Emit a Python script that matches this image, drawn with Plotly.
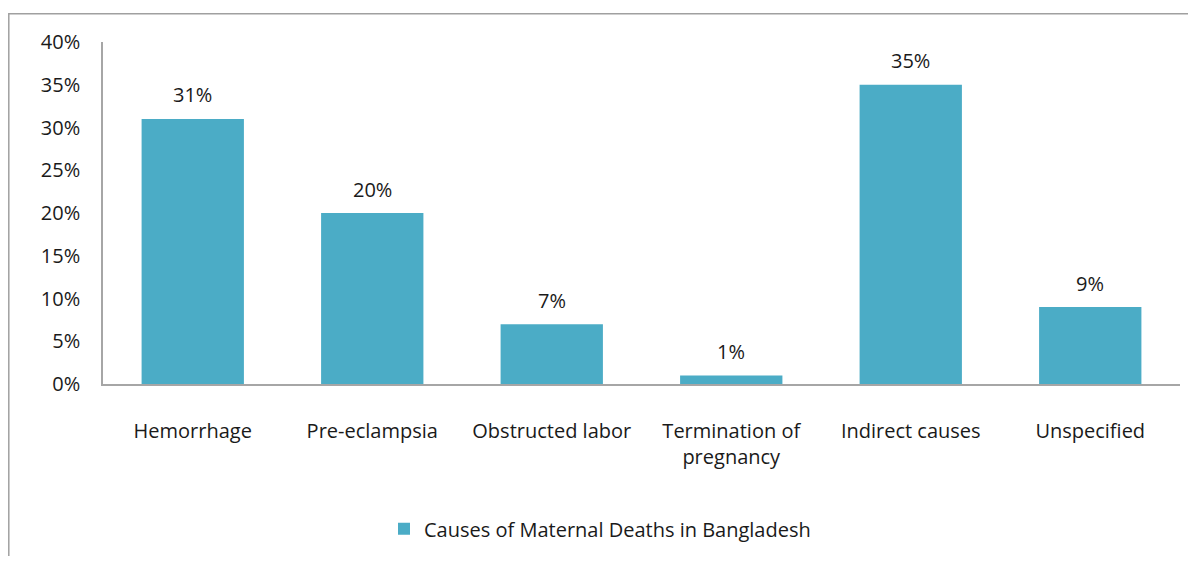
import plotly.graph_objects as go

categories = ["Hemorrhage", "Pre-eclampsia", "Obstructed labor", "Termination of<br>pregnancy",
              "Indirect causes", "Unspecified"]
values = [0.31, 0.20, 0.07, 0.01, 0.35, 0.09]
labels = ["31%", "20%", "7%", "1%", "35%", "9%"]
series_name = "Causes of Maternal Deaths in Bangladesh"
ytick_vals = [0, 0.05, 0.10, 0.15, 0.20, 0.25, 0.30, 0.35, 0.40]
ytick_text = ["0%", "5%", "10%", "15%", "20%", "25%", "30%", "35%", "40%"]

BAR = "#4BACC6"
TXT = "#1a1a1a"
AX = "#a6a6a6"
FONT = "Open Sans"
FS = 20

OFF = 8  # page body margin
W, H = 1180, 548
L, T = 103 - OFF, 42 - OFF
pw, ph = 1077, 345
R = W - L - pw
B = H - T - ph

fig = go.Figure()
fig.add_trace(go.Bar(x=categories, y=values, name=series_name,
                     marker=dict(color=BAR, line=dict(width=0)),
                     width=0.57, showlegend=True))

for c, v, t in zip(categories, values, labels):
    fig.add_annotation(x=c, y=v, text=t, showarrow=False, yshift=24,
                       font=dict(family=FONT, size=FS, color=TXT))


def px(xp):
    return (xp - OFF - L) / pw


def py(yp):
    return (T + ph - (yp - OFF)) / ph


fig.add_shape(type="rect", xref="paper", yref="paper",
              x0=px(8.8), x1=px(1230), y0=py(600), y1=py(13.5),
              line=dict(color="#a0a0a0", width=1.5), fillcolor="rgba(0,0,0,0)",
              layer="below")

fig.update_layout(
    width=W, height=H,
    margin=dict(l=L, r=R, t=T, b=B),
    paper_bgcolor="white", plot_bgcolor="white",
    font=dict(family=FONT, size=FS, color=TXT),
    bargap=0.43,
    showlegend=True,
    legend=dict(orientation="h", x=px(600), xanchor="center", y=py(533), yanchor="middle",
                font=dict(family=FONT, size=FS, color=TXT), itemwidth=30),
    xaxis=dict(showline=True, linecolor=AX, linewidth=1.5, showgrid=False, ticks="",
               ticklabelstandoff=28, tickfont=dict(family=FONT, size=FS, color=TXT)),
    yaxis=dict(range=[0, 0.40], tickvals=ytick_vals, ticktext=ytick_text,
               showline=True, linecolor=AX, linewidth=1.5, showgrid=False, ticks="",
               zeroline=False, ticklabelstandoff=17,
               tickfont=dict(family=FONT, size=FS, color=TXT)),
)

fig.write_html("out.html")
